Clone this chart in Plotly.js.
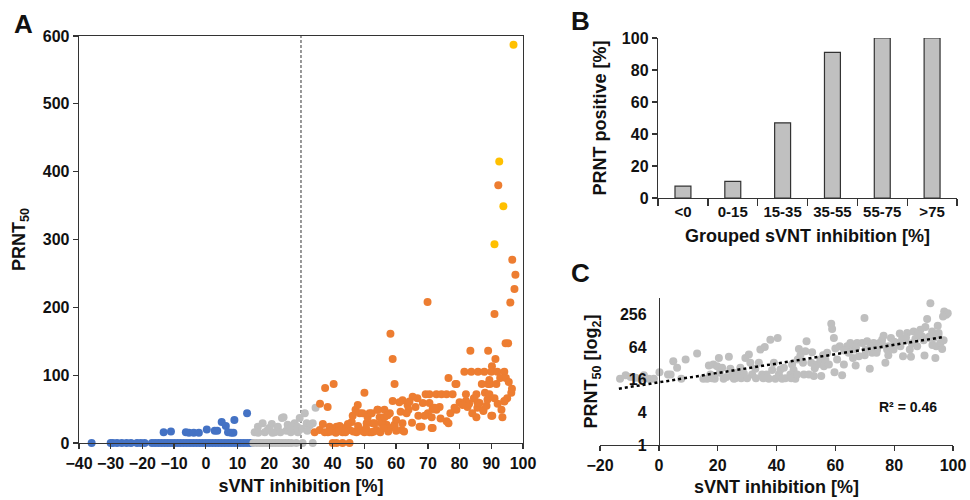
<!DOCTYPE html>
<html>
<head>
<meta charset="utf-8">
<script src="https://cdn.plot.ly/plotly-3.0.1.min.js"></script>
<style>html,body{margin:0;padding:0;background:#fff;}#chart{width:970px;height:500px;}</style>
</head>
<body>
<div id="chart"></div>
<script>
// ---------- Panel A data ----------
const aBlueX = [-36,-30,-29.3,-28,-26.5,-25,-23.6,-21.7,-20.5,-19.3,-17,-16,-15,-14,-13,-12,-11,-10,-9,-8,-7,-6,-5,-4,-3,-2,-1,0,1,2,3,4,5,6,7,8,9,10,11,12,13,14,14.5,
  -13.3,-11,-6.3,-5.3,-3.8,-2.2,0.3,2.8,3.6,5,6.3,7,8,8.7,9,13];
const aBlueY = [0,0,0,0,0,0,0,0,0,0,0,0,0,0,0,0,0,0,0,0,0,0,0,0,0,0,0,0,0,0,0,0,0,0,0,0,0,0,0,0,0,0,0,
  16,17,16,15,15,15,20,18,18,31,25,16,15,15,34,44];
const aGrayX = [15,16,17,18,19,20,21,22,23,24,25,26,27,28.5,30.5,33.7,
  15.4,16.4,17.9,18.6,20,20.8,21.7,22.7,24,24.5,25.4,26.4,27.4,28,29,29.6,31.2,31.8,32.8,33.7,34.6,
  16.5,19.5,21,23.5,25.8,27,28.8,30.3,32,26.8];
const aGrayY = [0,0,0,0,0,0,0,0,0,0,0,0,0,0,0,0,
  16,24,29,16,22,28,16,24,37,38,18,24,18,29,16,37,44,29,26,29,52,
  15,19,15,16,27,22,24,21,18,16];
const aOrangeX = [40,41.2,43.1,45.3,
  92.2,96.6,97.6,97.3,96,91,69.9,58.2,58.9,59.5,94.5,95.3,83.4,89,91.3,90.2,
  81.5,83.7,85.8,87.8,90,91.9,94.1,76.5,79,87,89,89.6,91.6,92.8,94.6,40.3,37.6,36,38.4,50,
  69.3,70.5,72.7,74.3,75.9,77.8,82,85.3,88,89.4,96.3,95,94.1,
  93.2,93.5,90.3,87.5,85.6,85.3,84,83,82,85.6,86.3,79,77.1,75.9,76.5,73.7,72.7,71.5,71.2,71.2,70,69,68.4,67.4,66.7,65.2,63.6,63.9,62,61,61.4,62,61.7,58.9,58,56.3,54.8,54.1,51.6,52.6,55.4,57,58,59.5,53.8,51.6,
  34.3,35.9,36.9,37.5,39,40,41.2,42.2,43.1,44.4,45.3,46,46.3,47.2,47.9,48.5,49.4,50.7,51,52.3,52.3,53.2,54.2,55.4,56.3,57.3,59.5,60,63.3,64.2,66.1,68,70.5,71.5,72.1,78.4,82.5,87.5,90,94.1,89.4,78.7,
  38.5,39.5,41,42,44,46.5,47.5,49,50,53,55,57.5,60,62.5,48,44.8,50.5,56,65,67,74,80,84.5,88.5,91,92,95.5,96.5,81,88.8];
const aOrangeY = [0,0,0,0,
  380,270,248,227,207,190,208,161,124,87,147,147,136,136,124,113,
  105,105,105,105,105,105,105,96,87,87,87,87,87,96,96,87,81,58,53,74,
  72,72,72,72,72,72,72,72,74,72,74,66,62,
  49,38,40,47,52,38,44,58,62,60,59,49,44,32,29,53,49,50,38,22,44,40,59,24,66,68,56,49,63,60,46,29,19,62,44,49,38,49,44,29,29,27,22,24,19,16,
  16,19,28,16,24,19,24,25,16,24,19,31,40,49,56,44,44,29,38,44,16,29,49,31,38,41,27,34,44,61,53,24,59,22,52,52,53,49,40,61,93,87,
  16,17,15,18,16,17,16,18,16,17,16,17,18,17,25,28,22,22,30,40,36,60,66,55,66,58,90,80,56,64];
const aYellowX = [97, 92.5, 93.8, 91];
const aYellowY = [587, 415, 349, 293];
const cutoff = 30;

// ---------- Panel B data ----------
const bGroups = ['<0','0-15','15-35','35-55','55-75','>75'];
const bPositive = [7.4, 10.4, 47, 91, 100, 100];

// ---------- Panel C data ----------
const cX = [-13.2,-11.3,-9.6,-7.9,-6.2,-5.1,-3.4,-1.7,0.2,3.1,4,4.9,6.2,7.6,9.1,13,15.1,16.4,17,18.5,19,19.8,20.7,21.5,22,20.4,23.8,24.3,24.9,25.5,26.6,27.7,28.9,29.4,30.6,31.1,31.7,32.8,34,34.5,35.1,36,36.6,37.4,37.9,39.1,39.6,40.4,40.8,41.3,41.9,42.5,44.7,45.3,46.4,47.2,47.6,48.1,49,49.3,49.8,50.2,51,51.8,52.1,52.7,53.8,54.9,55.2,56.1,56.6,57.2,57.8,58.6,58.9,59.5,59.7,60.6,61.5,62.3,62.9,64,64.5,65.1,66.3,66.9,67.4,68,69.1,69.9,70.3,70.8,71.7,72.5,73,74.2,75,75.9,76.4,77,77.6,78.1,78.9,79.8,81,81.9,82.1,83,83.8,84.4,85.3,85.7,86.6,87.2,87.8,88.9,89.5,90.3,90.6,91.2,91.7,92.3,92.9,93.4,94,94.3,94.8,95.1,95.7,96.3,96.8,97,97.7,98.2,96.6,
  45.8,53,55.8,60,63,67,72,76,80,84,88,92,95,82.7,86,90,93,66,70,74,78,26,28,30,33,35.5,43,45,47,38.5,23,18,17.5];
const cY = [16.7,19.2,17.9,17.4,16.7,19.2,16.7,16.7,22,20,20,35,26.5,16.7,37.6,48.5,16.7,16.7,29.2,30.5,16.7,28.4,21.4,26.5,16.7,40.3,42.2,25.4,19.2,16.7,21.4,26.5,20.8,40.3,46.5,32.7,20,25.4,32.7,57.3,20,64,20,16.7,87.4,32.7,16.7,93.7,20,24.6,16.7,26.5,20,30.5,16.7,37.6,59,44.6,32.7,20,53.4,81.6,20,32.7,51.3,18.6,30.5,37.6,18.6,28.4,37.6,49.9,30.5,171,137,93.7,22,37.6,66,19.2,30.5,66,49.9,76,57.3,29.2,76,43.4,76,218,57.3,81.6,25.4,49.9,76,57.3,76,87.4,103,32.7,57.3,66,93.7,57.3,76,113,66,43.4,85,116,57.3,42.2,124,90,66,133,100,44.6,149,209,93.7,410,124,93.7,40.3,66,158,116,76,59,85,289,251,269,234,
  24,26,45,60,55,62,65,70,80,95,110,100,105,90,75,85,70,40,45,50,45,17,17,17,17,17,17,17,20,24,18,17,20];
const trendX = [-13.6, 96.8];
const trendY = [10.9, 98];
const cTickVals = [1, 4, 16, 64, 256];
const cTickText = ['1', '4', '16', '64', '256'];
const r2Text = 'R² = 0.46';

// ---------- styling ----------
const FONT = 'Liberation Sans';
const tf = (s) => ({family: FONT, size: s, color: '#111', weight: 'bold'});
const blue = '#4472C4', gray = '#BFBFBF', orange = '#ED7D31', yellow = '#FFC000';
const mk = (c) => ({color: c, size: 8, line: {width: 0}});
const esc = (s) => s.replace(/</g, '&lt;').replace(/>/g, '&gt;');

const traces = [
  {type: 'scatter', mode: 'markers', x: aBlueX, y: aBlueY, marker: mk(blue), xaxis: 'x', yaxis: 'y', cliponaxis: false, showlegend: false},
  {type: 'scatter', mode: 'markers', x: aGrayX, y: aGrayY, marker: mk(gray), xaxis: 'x', yaxis: 'y', cliponaxis: false, showlegend: false},
  {type: 'scatter', mode: 'markers', x: aOrangeX, y: aOrangeY, marker: mk(orange), xaxis: 'x', yaxis: 'y', cliponaxis: false, showlegend: false},
  {type: 'scatter', mode: 'markers', x: aYellowX, y: aYellowY, marker: mk(yellow), xaxis: 'x', yaxis: 'y', cliponaxis: false, showlegend: false},
  {type: 'bar', x: bGroups, y: bPositive, marker: {color: '#C0C0C0', line: {color: '#333', width: 1.2}}, xaxis: 'x2', yaxis: 'y2', showlegend: false},
  {type: 'scatter', mode: 'markers', x: cX, y: cY, marker: mk(gray), xaxis: 'x3', yaxis: 'y3', cliponaxis: false, showlegend: false},
  {type: 'scatter', mode: 'lines', x: trendX, y: trendY, line: {color: '#000', width: 2.5, dash: 'dot'}, xaxis: 'x3', yaxis: 'y3', showlegend: false}
];

const axBase = {showgrid: false, zeroline: false, showline: true, linecolor: '#333', linewidth: 1.3,
  ticks: 'outside', ticklen: 5, tickwidth: 1.3, tickcolor: '#333', tickfont: tf(16),
  tickprefix: '<b>', ticksuffix: '</b>'};

const layout = {
  width: 970, height: 500,
  margin: {l: 0, r: 0, t: 0, b: 0},
  paper_bgcolor: '#fff', plot_bgcolor: '#fff',
  bargap: 0.68,
  xaxis: Object.assign({}, axBase, {domain: [0.0814, 0.5392], range: [-40, 100], dtick: 10, mirror: true, anchor: 'y',
    title: {text: '<b>sVNT inhibition [%]</b>', font: tf(18), standoff: 9}}),
  yaxis: Object.assign({}, axBase, {domain: [0.114, 0.928], range: [0, 600], dtick: 100, mirror: true, anchor: 'x',
    title: {text: '<b>PRNT<sub>50</sub></b>', font: tf(18), standoff: 12}}),
  xaxis2: Object.assign({}, axBase, {domain: [0.6784, 0.9866], anchor: 'y2', type: 'category', tickson: 'boundaries',
    tickangle: 0, tickfont: tf(15),
    tickprefix: '', ticksuffix: '', tickvals: bGroups, ticktext: bGroups.map(g => '<b>' + esc(g) + '</b>'), ticklen: 7,
    title: {text: '<b>Grouped sVNT inhibition [%]</b>', font: tf(18), standoff: 10}}),
  yaxis2: Object.assign({}, axBase, {domain: [0.604, 0.924], range: [0, 100], dtick: 20, anchor: 'x2',
    title: {text: '<b>PRNT positive [%]</b>', font: tf(18), standoff: 10}}),
  xaxis3: Object.assign({}, axBase, {domain: [0.6186, 0.9825], range: [-20, 100], dtick: 20, anchor: 'y3',
    title: {text: '<b>sVNT inhibition [%]</b>', font: tf(18), standoff: 8}}),
  yaxis3: Object.assign({}, axBase, {domain: [0.11, 0.404], type: 'log', range: [0, Math.log10(512)], anchor: 'free', position: 0.6792,
    tickvals: cTickVals, ticktext: cTickText.map(t => '<b>' + t + '</b>'), tickprefix: '', ticksuffix: '',
    ticks: 'outside', ticklen: 9, tickcolor: 'rgba(0,0,0,0)',
    title: {text: '<b>PRNT<sub>50</sub> [log<sub>2</sub>]</b>', font: tf(18), standoff: 16}}),
  shapes: [
    {type: 'line', xref: 'x', yref: 'y', x0: cutoff, x1: cutoff, y0: 0, y1: 600, line: {color: '#333', width: 1, dash: '3px,2px'}, layer: 'below'}
  ],
  annotations: [
    {text: '<b>A</b>', xref: 'paper', yref: 'paper', x: 0.0124, y: 0.953, xanchor: 'left', yanchor: 'middle', showarrow: false, font: tf(26)},
    {text: '<b>B</b>', xref: 'paper', yref: 'paper', x: 0.587, y: 0.958, xanchor: 'left', yanchor: 'middle', showarrow: false, font: tf(26)},
    {text: '<b>C</b>', xref: 'paper', yref: 'paper', x: 0.587, y: 0.454, xanchor: 'left', yanchor: 'middle', showarrow: false, font: tf(26)},
    {text: '<b>' + r2Text + '</b>', xref: 'paper', yref: 'paper', x: 0.936, y: 0.186, xanchor: 'center', yanchor: 'middle', showarrow: false, font: tf(14)}
  ]
};

Plotly.newPlot('chart', traces, layout, {displayModeBar: false, staticPlot: true});
</script>
</body>
</html>
